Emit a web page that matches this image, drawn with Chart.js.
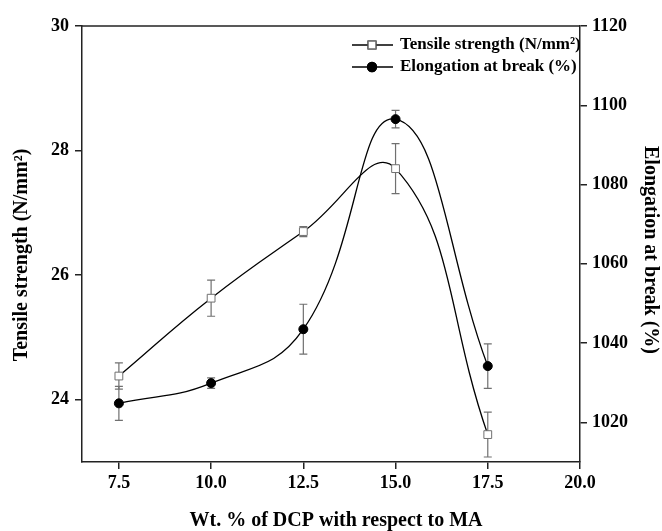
<!DOCTYPE html>
<html>
<head>
<meta charset="utf-8">
<script src="https://cdn.jsdelivr.net/npm/chart.js@4.4.0/dist/chart.umd.min.js"></script>
<style>
  html, body { margin: 0; padding: 0; background: #fff; }
</style>
</head>
<body>
<canvas id="chart" width="662" height="531"></canvas>
<script>
// Tensile strength / elongation vs DCP content
const dcp = [7.5, 10.0, 12.5, 15.0, 17.5];
const tensile = [24.38, 25.63, 26.70, 27.71, 23.44];
const tensileErr = [0.21, 0.29, 0.08, 0.40, 0.36];
const elongation = [1024.8, 1029.9, 1043.5, 1096.5, 1034.2];
const elongationErr = [4.3, 1.3, 6.3, 2.2, 5.6];

const xTicks = [7.5, 10.0, 12.5, 15.0, 17.5, 20.0];
const leftTicks = [24, 26, 28, 30];
const rightTicks = [1020, 1040, 1060, 1080, 1100, 1120];

const serif = "'Liberation Serif', 'Times New Roman', serif";
const tickFont = { family: serif, size: 18, weight: 'bold' };
const axisColor = '#222';

function setTicks(values) {
  return (scale) => { scale.ticks = values.map(v => ({ value: v })); };
}

// error bars drawn under the lines and markers
const errorBars = {
  id: 'errorBars',
  beforeDatasetsDraw(chart) {
    const ctx = chart.ctx;
    const xs = chart.scales.x;
    ctx.save();
    ctx.strokeStyle = '#707070';
    ctx.lineWidth = 1.2;
    chart.data.datasets.forEach((ds) => {
      const ys = chart.scales[ds.yAxisID];
      ds.data.forEach((p, i) => {
        const e = ds.errors[i];
        const px = xs.getPixelForValue(p.x);
        const top = ys.getPixelForValue(p.y + e);
        const bot = ys.getPixelForValue(p.y - e);
        ctx.beginPath();
        ctx.moveTo(px, top); ctx.lineTo(px, bot);
        ctx.moveTo(px - 4, top); ctx.lineTo(px + 4, top);
        ctx.moveTo(px - 4, bot); ctx.lineTo(px + 4, bot);
        ctx.stroke();
      });
    });
    ctx.restore();
  }
};

// top frame line, legend and axis titles
const extras = {
  id: 'extras',
  afterDraw(chart) {
    const ctx = chart.ctx;
    const a = chart.chartArea;
    ctx.save();
    ctx.strokeStyle = axisColor;
    ctx.lineWidth = 1.5;
    ctx.beginPath();
    ctx.moveTo(a.left, a.top);
    ctx.lineTo(a.right, a.top);
    ctx.stroke();

    // legend
    const lx = a.right - 228;
    const rows = [a.top + 19, a.top + 41];
    chart.data.datasets.forEach((ds, i) => {
      const y = rows[i];
      ctx.strokeStyle = '#000';
      ctx.lineWidth = 1.3;
      ctx.beginPath();
      ctx.moveTo(lx, y); ctx.lineTo(lx + 41, y);
      ctx.stroke();
      Chart.helpers.drawPoint(ctx, {
        pointStyle: ds.pointStyle, radius: ds.pointRadius, rotation: 0,
        borderWidth: ds.pointBorderWidth
      }, lx + 20, y);
      ctx.fillStyle = ds.pointBackgroundColor;
      ctx.strokeStyle = ds.pointBorderColor;
      ctx.fill();
      ctx.stroke();
      ctx.fillStyle = '#000';
      ctx.font = 'bold 17px ' + serif;
      ctx.textBaseline = 'middle';
      ctx.textAlign = 'left';
      ctx.fillText(ds.label, lx + 48, y);
    });

    // axis titles
    ctx.fillStyle = '#000';
    ctx.font = 'bold 20px ' + serif;
    ctx.textAlign = 'center';
    ctx.textBaseline = 'middle';
    ctx.fillText('Wt. % of DCP with respect to MA', 336, 521);

    ctx.save();
    ctx.translate(22, 255);
    ctx.rotate(-Math.PI / 2);
    ctx.fillText('Tensile strength (N/mm\u00B2)', 0, 0);
    ctx.restore();

    ctx.save();
    ctx.translate(650, 250);
    ctx.rotate(Math.PI / 2);
    ctx.fillText('Elongation at break (%)', 0, 0);
    ctx.restore();

    ctx.restore();
  }
};

const ctx = document.getElementById('chart').getContext('2d');
new Chart(ctx, {
  type: 'line',
  data: {
    datasets: [
      {
        label: 'Tensile strength (N/mm\u00B2)',
        data: dcp.map((x, i) => ({ x: x, y: tensile[i] })),
        errors: tensileErr,
        yAxisID: 'y',
        borderColor: '#000',
        borderWidth: 1.3,
        tension: 0.45,
        fill: false,
        pointStyle: 'rect',
        pointRadius: 5.5,
        pointBackgroundColor: '#fff',
        pointBorderColor: '#707070',
        pointBorderWidth: 1
      },
      {
        label: 'Elongation at break (%)',
        data: dcp.map((x, i) => ({ x: x, y: elongation[i] })),
        errors: elongationErr,
        yAxisID: 'y1',
        borderColor: '#000',
        borderWidth: 1.3,
        tension: 0.45,
        fill: false,
        pointStyle: 'circle',
        pointRadius: 4.5,
        pointBackgroundColor: '#000',
        pointBorderColor: '#000',
        pointBorderWidth: 1
      }
    ]
  },
  options: {
    responsive: false,
    animation: false,
    layout: { padding: { top: 26, left: 0, right: 0, bottom: 0 } },
    plugins: {
      legend: { display: false },
      tooltip: { enabled: false }
    },
    scales: {
      x: {
        type: 'linear',
        min: 6.5,
        max: 20,
        afterBuildTicks: setTicks(xTicks),
        afterFit: (s) => { s.height = 69; },
        ticks: {
          autoSkip: false, maxRotation: 0, padding: 4,
          font: tickFont, color: '#000',
          callback: (v) => v.toFixed(1)
        },
        grid: { drawOnChartArea: false, tickLength: 7, color: axisColor, lineWidth: 1.5 },
        border: { color: axisColor, width: 1.5 }
      },
      y: {
        position: 'left',
        min: 23,
        max: 30,
        afterBuildTicks: setTicks(leftTicks),
        afterFit: (s) => { s.width = 82; },
        ticks: { autoSkip: false, padding: 6, font: tickFont, color: '#000', callback: (v) => String(v) },
        grid: { drawOnChartArea: false, tickLength: 7, color: axisColor, lineWidth: 1.5 },
        border: { color: axisColor, width: 1.5 }
      },
      y1: {
        position: 'right',
        min: 1010,
        max: 1120,
        afterBuildTicks: setTicks(rightTicks),
        afterFit: (s) => { s.width = 82; },
        ticks: { autoSkip: false, padding: 5, font: tickFont, color: '#000', callback: (v) => String(v) },
        grid: { drawOnChartArea: false, tickLength: 7, color: axisColor, lineWidth: 1.5 },
        border: { color: axisColor, width: 1.5 }
      }
    }
  },
  plugins: [errorBars, extras]
});
</script>
</body>
</html>
